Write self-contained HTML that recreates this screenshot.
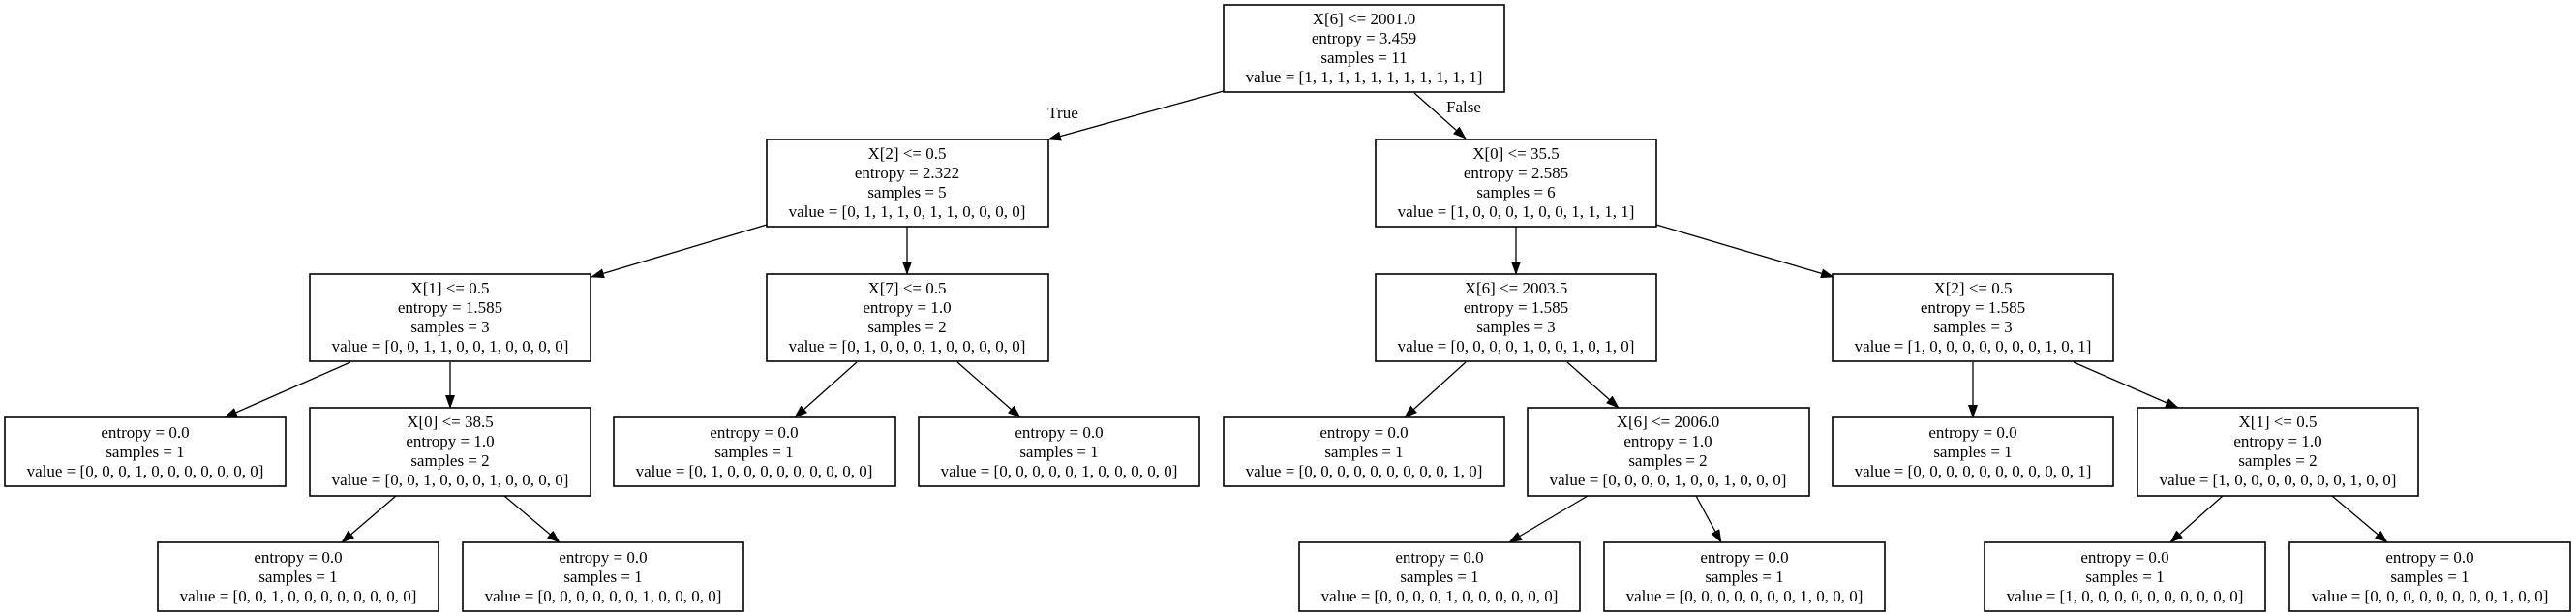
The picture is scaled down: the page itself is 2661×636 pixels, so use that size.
<!DOCTYPE html>
<html><head><meta charset="utf-8"><style>
html,body{margin:0;padding:0;background:#fff;}
svg{display:block;}
text{font-family:"Liberation Serif",serif;font-size:17px;fill:#000;text-anchor:middle;}
rect{fill:#fff;stroke:#000;stroke-width:1.6;}
line{stroke:#000;stroke-width:1.3;}
</style></head><body>
<svg width="2661" height="636" viewBox="0 0 2661 636">
<defs><marker id="a" markerWidth="14" markerHeight="10" refX="13" refY="5" orient="auto" markerUnits="userSpaceOnUse"><path d="M0,0 L14,5 L0,10 z" fill="#000"/></marker></defs>
<g marker-end="url(#a)">
<line x1="1264" y1="94" x2="1083" y2="144"/>
<line x1="1461" y1="96" x2="1514" y2="143"/>
<line x1="792" y1="232" x2="611" y2="286"/>
<line x1="937" y1="234" x2="937" y2="283"/>
<line x1="362" y1="374" x2="232" y2="431"/>
<line x1="465" y1="374" x2="465" y2="421"/>
<line x1="885" y1="374" x2="821" y2="431"/>
<line x1="989" y1="374" x2="1054" y2="431"/>
<line x1="409" y1="512" x2="353" y2="560"/>
<line x1="521" y1="512" x2="578" y2="560"/>
<line x1="1566" y1="234" x2="1566" y2="283"/>
<line x1="1711" y1="232" x2="1894" y2="286"/>
<line x1="1514" y1="374" x2="1451" y2="431"/>
<line x1="1619" y1="374" x2="1672" y2="421"/>
<line x1="2038" y1="374" x2="2038" y2="431"/>
<line x1="2142" y1="374" x2="2250" y2="421"/>
<line x1="1640" y1="512" x2="1559" y2="560"/>
<line x1="1752" y1="512" x2="1778" y2="560"/>
<line x1="2296" y1="512" x2="2242" y2="560"/>
<line x1="2409" y1="512" x2="2466" y2="560"/>
</g>
<text x="1098" y="122">True</text>
<text x="1512" y="116">False</text>

<!-- decision nodes -->
<rect x="1264" y="5" width="290" height="90"/>
<text x="1409" y="25">X[6] &lt;= 2001.0</text><text x="1409" y="45">entropy = 3.459</text><text x="1409" y="65">samples = 11</text><text x="1409" y="85">value = [1, 1, 1, 1, 1, 1, 1, 1, 1, 1, 1]</text>

<rect x="792" y="144" width="291" height="90"/>
<text x="937" y="164">X[2] &lt;= 0.5</text><text x="937" y="184">entropy = 2.322</text><text x="937" y="204">samples = 5</text><text x="937" y="224">value = [0, 1, 1, 1, 0, 1, 1, 0, 0, 0, 0]</text>

<rect x="1421" y="144" width="290" height="90"/>
<text x="1566" y="164">X[0] &lt;= 35.5</text><text x="1566" y="184">entropy = 2.585</text><text x="1566" y="204">samples = 6</text><text x="1566" y="224">value = [1, 0, 0, 0, 1, 0, 0, 1, 1, 1, 1]</text>

<rect x="320" y="283" width="290" height="90"/>
<text x="465" y="303">X[1] &lt;= 0.5</text><text x="465" y="323">entropy = 1.585</text><text x="465" y="343">samples = 3</text><text x="465" y="363">value = [0, 0, 1, 1, 0, 0, 1, 0, 0, 0, 0]</text>

<rect x="792" y="283" width="291" height="90"/>
<text x="937" y="303">X[7] &lt;= 0.5</text><text x="937" y="323">entropy = 1.0</text><text x="937" y="343">samples = 2</text><text x="937" y="363">value = [0, 1, 0, 0, 0, 1, 0, 0, 0, 0, 0]</text>

<rect x="1421" y="283" width="290" height="90"/>
<text x="1566" y="303">X[6] &lt;= 2003.5</text><text x="1566" y="323">entropy = 1.585</text><text x="1566" y="343">samples = 3</text><text x="1566" y="363">value = [0, 0, 0, 0, 1, 0, 0, 1, 0, 1, 0]</text>

<rect x="1893" y="283" width="290" height="90"/>
<text x="2038" y="303">X[2] &lt;= 0.5</text><text x="2038" y="323">entropy = 1.585</text><text x="2038" y="343">samples = 3</text><text x="2038" y="363">value = [1, 0, 0, 0, 0, 0, 0, 0, 1, 0, 1]</text>

<rect x="320" y="421" width="290" height="91"/>
<text x="465" y="441">X[0] &lt;= 38.5</text><text x="465" y="461">entropy = 1.0</text><text x="465" y="481">samples = 2</text><text x="465" y="501">value = [0, 0, 1, 0, 0, 0, 1, 0, 0, 0, 0]</text>

<rect x="1578" y="421" width="291" height="91"/>
<text x="1723" y="441">X[6] &lt;= 2006.0</text><text x="1723" y="461">entropy = 1.0</text><text x="1723" y="481">samples = 2</text><text x="1723" y="501">value = [0, 0, 0, 0, 1, 0, 0, 1, 0, 0, 0]</text>

<rect x="2208" y="421" width="290" height="91"/>
<text x="2353" y="441">X[1] &lt;= 0.5</text><text x="2353" y="461">entropy = 1.0</text><text x="2353" y="481">samples = 2</text><text x="2353" y="501">value = [1, 0, 0, 0, 0, 0, 0, 0, 1, 0, 0]</text>

<!-- leaves level 3 -->
<rect x="5" y="431" width="290" height="71"/>
<text x="150" y="452">entropy = 0.0</text><text x="150" y="472">samples = 1</text><text x="150" y="492">value = [0, 0, 0, 1, 0, 0, 0, 0, 0, 0, 0]</text>
<rect x="634" y="431" width="291" height="71"/>
<text x="779" y="452">entropy = 0.0</text><text x="779" y="472">samples = 1</text><text x="779" y="492">value = [0, 1, 0, 0, 0, 0, 0, 0, 0, 0, 0]</text>
<rect x="949" y="431" width="290" height="71"/>
<text x="1094" y="452">entropy = 0.0</text><text x="1094" y="472">samples = 1</text><text x="1094" y="492">value = [0, 0, 0, 0, 0, 1, 0, 0, 0, 0, 0]</text>
<rect x="1264" y="431" width="290" height="71"/>
<text x="1409" y="452">entropy = 0.0</text><text x="1409" y="472">samples = 1</text><text x="1409" y="492">value = [0, 0, 0, 0, 0, 0, 0, 0, 0, 1, 0]</text>
<rect x="1893" y="431" width="290" height="71"/>
<text x="2038" y="452">entropy = 0.0</text><text x="2038" y="472">samples = 1</text><text x="2038" y="492">value = [0, 0, 0, 0, 0, 0, 0, 0, 0, 0, 1]</text>

<!-- leaves level 4 -->
<rect x="163" y="560" width="290" height="71"/>
<text x="308" y="581">entropy = 0.0</text><text x="308" y="601">samples = 1</text><text x="308" y="621">value = [0, 0, 1, 0, 0, 0, 0, 0, 0, 0, 0]</text>
<rect x="478" y="560" width="290" height="71"/>
<text x="623" y="581">entropy = 0.0</text><text x="623" y="601">samples = 1</text><text x="623" y="621">value = [0, 0, 0, 0, 0, 0, 1, 0, 0, 0, 0]</text>
<rect x="1342" y="560" width="290" height="71"/>
<text x="1487" y="581">entropy = 0.0</text><text x="1487" y="601">samples = 1</text><text x="1487" y="621">value = [0, 0, 0, 0, 1, 0, 0, 0, 0, 0, 0]</text>
<rect x="1657" y="560" width="290" height="71"/>
<text x="1802" y="581">entropy = 0.0</text><text x="1802" y="601">samples = 1</text><text x="1802" y="621">value = [0, 0, 0, 0, 0, 0, 0, 1, 0, 0, 0]</text>
<rect x="2050" y="560" width="290" height="71"/>
<text x="2195" y="581">entropy = 0.0</text><text x="2195" y="601">samples = 1</text><text x="2195" y="621">value = [1, 0, 0, 0, 0, 0, 0, 0, 0, 0, 0]</text>
<rect x="2365" y="560" width="290" height="71"/>
<text x="2510" y="581">entropy = 0.0</text><text x="2510" y="601">samples = 1</text><text x="2510" y="621">value = [0, 0, 0, 0, 0, 0, 0, 0, 1, 0, 0]</text>
</svg>
</body></html>
